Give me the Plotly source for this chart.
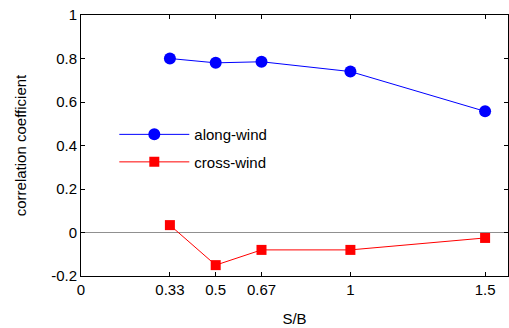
import plotly.graph_objects as go

sb = [0.33, 0.5, 0.67, 1, 1.5]
along_wind = [0.80, 0.78, 0.785, 0.74, 0.557]
cross_wind = [0.034, -0.150, -0.080, -0.080, -0.025]

x_ticks = [0, 0.33, 0.5, 0.67, 1, 1.5]
x_ticklabels = ["0", "0.33", "0.5", "0.67", "1", "1.5"]
y_ticks = [-0.2, 0, 0.2, 0.4, 0.6, 0.8, 1]
y_ticklabels = ["-0.2", "0", "0.2", "0.4", "0.6", "0.8", "1"]

font = "Liberation Sans, Arial, sans-serif"

fig = go.Figure()
fig.add_trace(go.Scatter(
    x=sb, y=along_wind, mode="lines+markers", name="along-wind",
    legendgroup="a",
    line=dict(color="#0000ff", width=1),
    marker=dict(symbol="circle", size=12, color="#0000ff"),
))
fig.add_trace(go.Scatter(
    x=sb, y=cross_wind, mode="lines+markers", name="cross-wind",
    legendgroup="b",
    line=dict(color="#ff0000", width=1),
    marker=dict(symbol="square", size=10, color="#ff0000"),
))

axis_common = dict(
    showline=True, linecolor="black", linewidth=1, mirror="ticks",
    ticks="inside", ticklen=4, tickcolor="black", tickwidth=1,
    showgrid=False, tickfont=dict(size=15, color="black", family=font),
)

fig.update_layout(
    width=509, height=328,
    margin=dict(l=81, r=1, t=15, b=52),
    paper_bgcolor="white", plot_bgcolor="white",
    font=dict(family=font, size=15, color="black"),
    showlegend=True,
    legend=dict(
        x=0.078, y=0.49, xanchor="left", yanchor="middle",
        bgcolor="rgba(0,0,0,0)", borderwidth=0,
        traceorder="grouped", tracegroupgap=5, itemwidth=70,
        font=dict(size=15, family=font, color="black"),
    ),
    xaxis=dict(
        range=[0, 1.585], tickvals=x_ticks, ticktext=x_ticklabels,
        zeroline=False,
        title=dict(text="S/B", font=dict(size=15, family=font), standoff=16),
        **axis_common,
    ),
    yaxis=dict(
        range=[-0.2, 1], tickvals=y_ticks, ticktext=y_ticklabels,
        zeroline=True, zerolinecolor="#909090", zerolinewidth=1,
        title=dict(text="correlation coefficient", font=dict(size=15, family=font), standoff=20),
        **axis_common,
    ),
)

fig.write_html("out.html")
